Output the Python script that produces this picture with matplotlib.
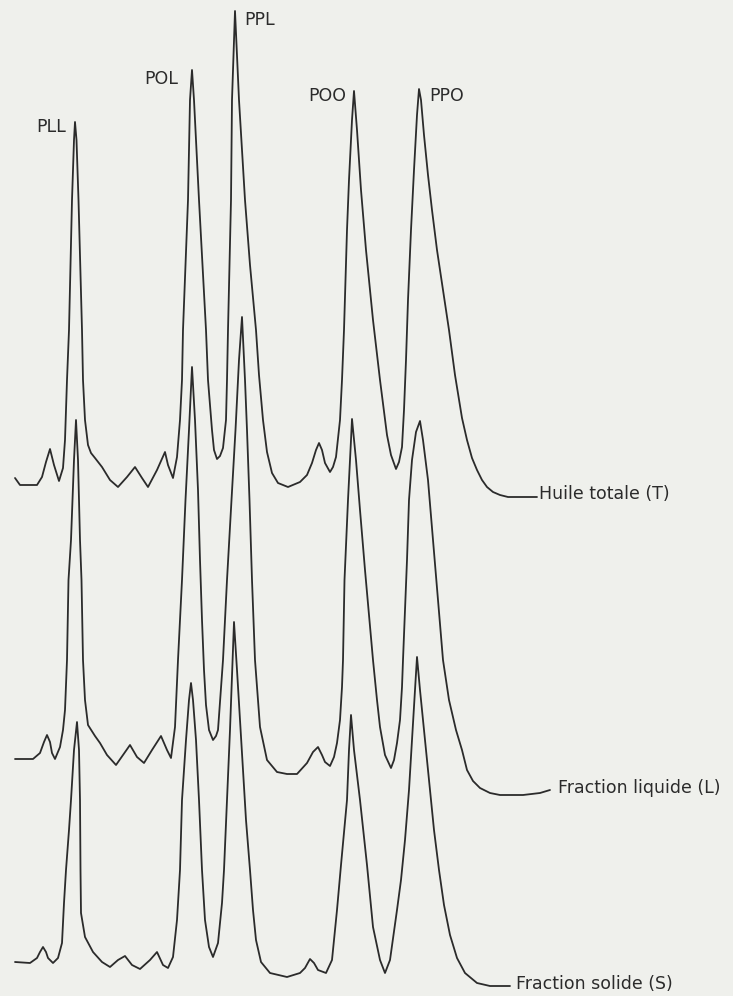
import numpy as np
import matplotlib
matplotlib.use("Agg")
import matplotlib.pyplot as plt

# --- data (x = elution position, h = signal above baseline) ---
# Huile totale (T)
t_x = [15, 20, 37, 42, 46, 50, 54, 59, 63, 65, 67, 69, 72, 74, 75, 76.5, 78.5, 82, 83, 85,
       88, 91, 95, 102, 110, 118, 127, 135, 142, 148, 157, 165, 168, 173, 177, 180, 182, 183, 188, 190,
       192, 194, 199, 206, 208, 212, 214, 217, 220, 223, 226, 227, 228, 231, 232, 235,
       239, 242, 245, 250, 256, 259, 263, 267, 272, 278, 288, 300, 307, 312, 316, 319, 322, 325, 330,
       333, 336, 340, 342, 344, 347, 349, 352, 354,
       357, 361, 366, 373, 380, 387, 391, 396, 399, 402, 404, 406, 408, 411, 414, 417, 419,
       421, 424, 428, 432, 437, 443, 449, 455, 462, 467, 472, 477, 482, 487, 493, 500, 508, 517, 537]
t_h = [7, 0, 0, 8, 23, 36, 20, 4, 17, 45, 105, 155, 285, 345, 363, 345, 285, 155, 105, 65,
       40, 32, 27, 18, 5, -2, 8, 18, 7, -2, 15, 33, 20, 7, 28, 65, 105, 155, 285, 385,
       415, 385, 285, 155, 105, 55, 35, 26, 29, 37, 65, 105, 155, 285, 385, 474,
       385, 335, 285, 220, 155, 110, 65, 33, 12, 2, -2, 3, 10, 22, 35, 42, 35, 22, 13,
       18, 28, 65, 105, 155, 255, 305, 365, 394,
       355, 295, 235, 165, 105, 50, 30, 16, 23, 38, 75, 125, 185, 255, 315, 370, 396,
       385, 350, 310, 275, 235, 195, 155, 110, 67, 45, 27, 15, 5, -2, -7, -10, -12, -12, -12]

# Fraction liquide (L)
l_x = [15, 33, 40, 44, 47, 50, 52, 55, 60, 63, 65, 67, 68.5, 71, 74, 76, 78, 80, 81.5, 83,
       85, 88, 95, 100, 107, 116, 123, 130, 137, 144, 152, 161, 167, 171, 175, 178, 182, 185.5, 189, 192,
       195, 198, 200, 202, 204, 206, 209, 213, 216, 218, 223, 227, 231.5, 235.5, 239, 242, 245, 247, 249.5, 252,
       255, 260, 267, 277, 287, 297, 307, 313, 318, 322, 325, 330, 334, 337, 340, 342, 343, 344.5, 348, 351, 352,
       356, 360, 365, 369, 373, 377, 380, 385, 391, 394, 397, 400, 402, 403, 405, 407, 409, 412, 416, 420,
       423, 428, 433, 438, 443, 449, 456, 462, 467, 473, 480, 490, 500, 523, 540, 550]
l_h = [0, 0, 6, 17, 24, 17, 6, 0, 12, 29, 49, 99, 179, 219, 299, 339, 299, 219, 179, 99,
       59, 34, 23, 16, 4, -6, 4, 14, 2, -4, 9, 23, 9, 1, 32, 99, 179, 259, 329, 392,
       339, 269, 199, 139, 89, 54, 29, 19, 23, 29, 99, 179, 259, 329, 399, 442, 379, 329, 259, 179,
       99, 32, -1, -13, -15, -15, -4, 7, 12, 4, -3, -7, 2, 16, 39, 72, 99, 179, 259, 319, 340,
       299, 249, 189, 144, 99, 59, 32, 4, -9, -1, 16, 39, 72, 99, 149, 199, 259, 299, 327, 338,
       319, 279, 219, 159, 99, 59, 29, 9, -11, -22, -29, -34, -36, -36, -34, -31]

# Fraction solide (S)
s_x = [15, 30, 37, 40, 43, 46, 48, 53, 58, 62, 64, 66, 69, 71, 74, 77, 79, 80, 80.5, 81,
       85, 93, 102, 110, 118, 125, 132, 140, 150, 157, 163, 168, 173, 177, 180, 182, 186, 189, 191, 193,
       196, 199, 202, 205, 209, 213, 218, 222, 224, 227, 230, 234,
       237, 240, 243, 246, 250, 253, 256, 261, 270, 287, 300, 305, 310, 314, 318, 326, 332, 337, 341, 347,
       349, 351, 354, 360, 367, 373, 380, 385, 390,
       397, 401, 405, 409, 412, 415, 417, 420, 424, 429, 434, 439, 444, 450, 457, 465, 477, 490, 510]
s_h = [1, 0, 5, 11, 16, 11, 5, 0, 5, 20, 60, 93, 133, 163, 213, 241, 213, 163, 93, 50,
       26, 11, 1, -4, 3, 7, -2, -6, 3, 11, -2, -5, 6, 43, 93, 163, 223, 263, 280, 263,
       223, 163, 93, 43, 16, 6, 20, 60, 93, 163, 233, 341,
       293, 243, 193, 143, 93, 53, 23, 1, -10, -14, -10, -5, 4, 0, -7, -10, 3, 53, 98, 163,
       213, 248, 213, 163, 98, 36, 3, -10, 3,
       53, 83, 123, 173, 223, 273, 306, 273, 233, 183, 133, 93, 58, 28, 5, -10, -20, -23, -23]

trace_names = ["Huile totale (T)", "Fraction liquide (L)", "Fraction solide (S)"]
peak_names = ["PLL", "POL", "PPL", "POO", "PPO"]
peak_pos = [75, 192, 235, 354, 419]

# --- layout ---
W, H = 733, 996
baselines = [485, 759, 963]
label_shift = [(2, -3), (8, -2), (6, -2)]
peak_label_off = [(-9, 5, "right"), (-14, 9, "right"), (9, 8.5, "left"),
                  (-8, 5, "right"), (10, 7, "left")]
ink = "#2b2b2b"
paper = "#eff0ec"

fig = plt.figure(figsize=(W / 100, H / 100), dpi=100)
fig.patch.set_facecolor(paper)
ax = fig.add_axes([0, 0, 1, 1])
ax.set_facecolor(paper)
ax.set_xlim(0, W)
ax.set_ylim(H, 0)
ax.axis("off")

traces = [(t_x, t_h), (l_x, l_h), (s_x, s_h)]
for (xs, hs), base, name, (dx, dy) in zip(traces, baselines, trace_names, label_shift):
    assert len(xs) == len(hs)
    xs = np.array(xs, dtype=float)
    ys = base - np.array(hs, dtype=float)
    ax.plot(xs, ys, color=ink, lw=1.3, solid_joinstyle="round", solid_capstyle="round")
    ax.text(xs[-1] + dx, ys[-1] + dy, name, fontsize=12.5, color=ink,
            ha="left", va="center", family="DejaVu Sans")

# peak labels on the top trace
tx = np.array(t_x, dtype=float)
th = np.array(t_h, dtype=float)
for name, pos, (dx, dy, ha) in zip(peak_names, peak_pos, peak_label_off):
    near = np.abs(tx - pos) < 4
    i = np.argmax(np.where(near, th, -1e9))
    ax.text(tx[i] + dx, baselines[0] - th[i] + dy, name, fontsize=12.5, color=ink,
            ha=ha, va="center", family="DejaVu Sans")

fig.savefig("out.png", dpi=100, facecolor=fig.get_facecolor())
